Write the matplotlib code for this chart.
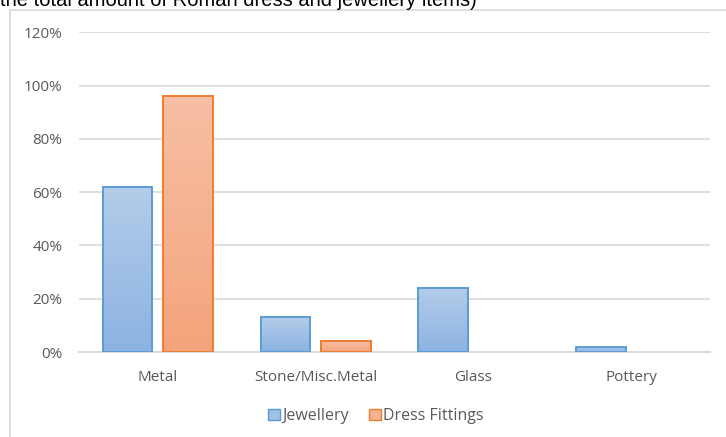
import numpy as np
import matplotlib
matplotlib.use("Agg")
import matplotlib.pyplot as plt
from matplotlib.patches import Rectangle
from matplotlib.colors import LinearSegmentedColormap

# Donnees
categories = ['Metal', 'Stone/Misc.Metal', 'Glass', 'Pottery']
jewellery = [62, 13, 24, 2]
dress_fittings = [96, 4, 0, 0]
y_ticks = [0, 20, 40, 60, 80, 100, 120]

plt.rcParams['font.family'] = ['Open Sans', 'DejaVu Sans']

W, H = 726, 437
fig = plt.figure(figsize=(W / 100, H / 100), dpi=100)

# Axes positionnes en pixels
left, right, top, bottom = 79, 710, 32.3, 352
ax = fig.add_axes([left / W, 1 - bottom / H, (right - left) / W, (bottom - top) / H])

blue_cmap = LinearSegmentedColormap.from_list('b', ['#8db3e2', '#b3cce9'])
orange_cmap = LinearSegmentedColormap.from_list('o', ['#f4a47b', '#f7bfa5'])

x = np.arange(len(categories))
width = 0.314
off = 0.192


def gradient_bars(xs, vals, cmap, edge):
    bars = ax.bar(xs, vals, width, color='none', edgecolor=edge, linewidth=1.4, zorder=3)
    grad = np.linspace(0, 1, 100).reshape(-1, 1)
    for b in bars:
        if b.get_height() <= 0:
            b.set_visible(False)
            continue
        x0 = b.get_x()
        im = ax.imshow(grad, cmap=cmap, origin='lower', aspect='auto',
                       extent=[x0, x0 + b.get_width(), 0, b.get_height()], zorder=2)
        im.set_clip_path(b)
    return bars


gradient_bars(x - off, jewellery, blue_cmap, '#5b9bd5')
gradient_bars(x + off, dress_fittings, orange_cmap, '#ed7d31')

ax.set_xlim(-0.5, len(categories) - 0.5)
ax.set_ylim(0, 120)
ax.set_yticks(y_ticks)
ax.set_yticklabels([f'{t}%' for t in y_ticks])
ax.set_xticks(x)
ax.set_xticklabels(categories)
ax.yaxis.grid(True, color='#d9d9d9', linewidth=1.2, zorder=0)
ax.set_axisbelow(True)
for s in ['top', 'right', 'left']:
    ax.spines[s].set_visible(False)
ax.spines['bottom'].set_color('#d9d9d9')
ax.spines['bottom'].set_linewidth(1.4)
ax.spines['bottom'].set_zorder(1)
ax.tick_params(axis='both', length=0, colors='#595959', labelsize=11)
ax.tick_params(axis='x', pad=13)
ax.tick_params(axis='y', pad=12)

# Legende
handles = [Rectangle((0, 0), 1, 1, facecolor='#a0c0e6', edgecolor='#5b9bd5'),
           Rectangle((0, 0), 1, 1, facecolor='#f6b291', edgecolor='#ed7d31')]
fig.legend(handles, ['Jewellery', 'Dress Fittings'], loc='center',
           bbox_to_anchor=(376 / W, 1 - 416 / H), ncol=2, frameon=False,
           fontsize=11.5, labelcolor='#595959', handlelength=0.7, handleheight=0.7,
           handletextpad=0.15, columnspacing=1.3)

# Cadre du graphique
fig.patches.append(Rectangle((10 / W, -0.1), 1.2, 1 - 10 / H + 0.1,
                             transform=fig.transFigure, fill=False,
                             edgecolor='#d9d9d9', linewidth=1.2))

# Titre coupe en haut
fig.text(0.0, 1 - 6.5 / H, 'the total amount of Roman dress and jewellery items)',
         fontsize=14.5, color='black', va='baseline', ha='left',
         family=['Liberation Sans', 'DejaVu Sans'])

fig.savefig('out.png', dpi=100)
